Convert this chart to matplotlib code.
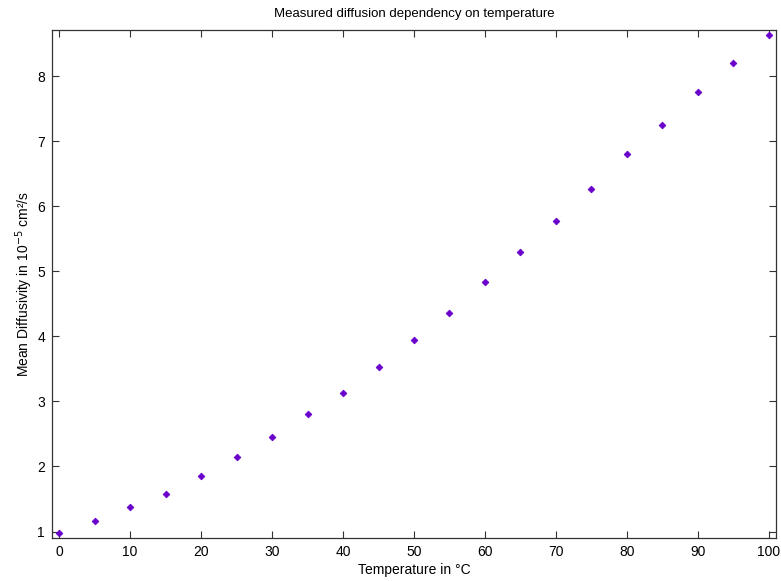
import matplotlib
matplotlib.use("Agg")
import matplotlib.pyplot as plt
import numpy as np

temperature = [0, 5, 10, 15, 20, 25, 30, 35, 40, 45, 50,
               55, 60, 65, 70, 75, 80, 85, 90, 95, 100]
diffusivity = [0.98, 1.16, 1.37, 1.58, 1.85, 2.14, 2.46, 2.80, 3.13, 3.53, 3.94,
               4.36, 4.83, 5.29, 5.77, 6.27, 6.80, 7.25, 7.75, 8.20, 8.64]

plt.rcParams['font.family'] = ['Liberation Sans', 'DejaVu Sans']
plt.rcParams['font.size'] = 10

fig = plt.figure(figsize=(7.81, 5.81), dpi=100)
ax = fig.add_axes([0.0666, 0.074, 0.9270, 0.8744])

ax.plot(temperature, diffusivity, linestyle='none', marker='D',
        markersize=3.4, color='#6a00cc', markeredgewidth=0.6)

ax.set_xlim(-1, 101)
ax.set_ylim(0.9, 8.71)
ax.set_xticks(np.arange(0, 101, 10))
ax.set_yticks(np.arange(1, 9, 1))
ax.tick_params(direction='in', top=True, right=True, length=5, width=0.8,
               color='#333333', labelsize=10, pad=5)
for s in ax.spines.values():
    s.set_color('#333333')
    s.set_linewidth(0.9)

ax.set_title("Measured diffusion dependency on temperature", fontsize=9.5, pad=9)
ax.set_xlabel("Temperature in \u00b0C", fontsize=10, labelpad=3)
ax.set_ylabel("Mean Diffusivity in 10$^{-5}$ cm\u00b2/s", fontsize=10)
ax.yaxis.set_label_coords(-0.023, 0.5)

fig.savefig("out.png", dpi=100)
